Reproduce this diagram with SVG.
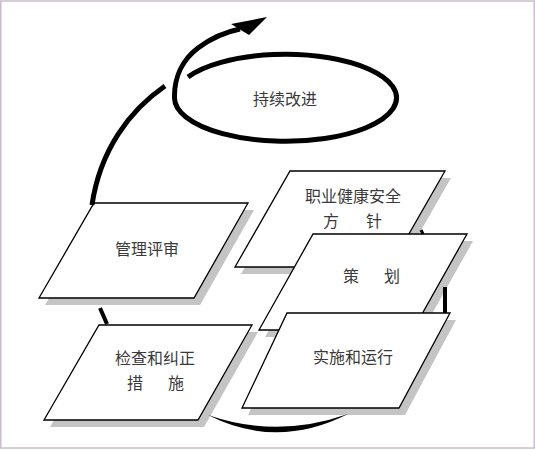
<svg xmlns="http://www.w3.org/2000/svg" width="535" height="450" viewBox="0 0 535 450">
<style>
.card{fill:#fff;stroke:#000;stroke-width:1.3;stroke-linejoin:miter}
.shadow{fill:#c4c4c4;stroke:none}
.lbl{font-family:"Noto Sans CJK SC","Noto Sans CJK JP",sans-serif;font-size:16px;fill:#3a3a3a;text-anchor:middle;dominant-baseline:central}
.con{fill:none;stroke:#000;stroke-linecap:butt}
</style>
<rect x="0.75" y="1" width="533.5" height="447" fill="#fff" stroke="#cbbccb" stroke-width="1.5"/>

<g id="ellipse-node">
<text class="lbl" x="285" y="98">持续改进</text>
</g>

<g id="node-policy">
<polygon class="shadow" points="296,178 451,178 396,274 241,274"/>
<polygon class="card" points="290,171 445,171 390,267 235,267"/>
<text class="lbl" x="353" y="195">职业健康安全</text>
<text class="lbl" x="331" y="220">方</text>
<text class="lbl" x="374" y="220">针</text>
</g>

<g id="node-plan">
<polygon class="shadow" points="319,241 473,241 419,337 265,337"/>
<polygon class="card" points="313,234 467,234 413,330 259,330"/>
<text class="lbl" x="351" y="275">策</text>
<text class="lbl" x="392" y="275">划</text>
</g>

<g id="node-do">
<polygon class="shadow" points="293,320 456,320 405,415 248,415"/>
<polygon class="card" points="287,313 450,313 399,408 242,408"/>
<text class="lbl" x="353" y="356">实施和运行</text>
</g>

<g id="node-review">
<polygon class="shadow" points="100,210 254,210 200,305 45,305"/>
<polygon class="card" points="94,203 248,203 194,298 39,298"/>
<text class="lbl" x="147" y="248">管理评审</text>
</g>

<g id="node-check">
<polygon class="shadow" points="105,332 258,332 204,427 50,427"/>
<polygon class="card" points="99,325 252,325 198,420 44,420"/>
<text class="lbl" x="155" y="357">检查和纠正</text>
<text class="lbl" x="135" y="382">措</text>
<text class="lbl" x="176" y="382">施</text>
</g>

<g id="connectors">
<path class="con" stroke-width="5" d="M188,77 A111,43.5 0 1 1 174.5,98 C174,78 182,60 198,48 C210,39 225,32 240,29"/>
<polygon points="267,17 231,24 249,35" fill="#000"/>
<path class="con" stroke-width="5" d="M165,86 C130,110 100,150 92,205"/>
<path class="con" stroke-width="4" d="M100,308 L107,324"/>
<path d="M208,415 Q277,450 348,414 Q277,439 208,415 Z" fill="#000"/>
<path class="con" stroke-width="4" d="M445,287 L445,313"/>
<path class="con" stroke-width="3" d="M421,230 L423,234"/>
</g>
</svg>
